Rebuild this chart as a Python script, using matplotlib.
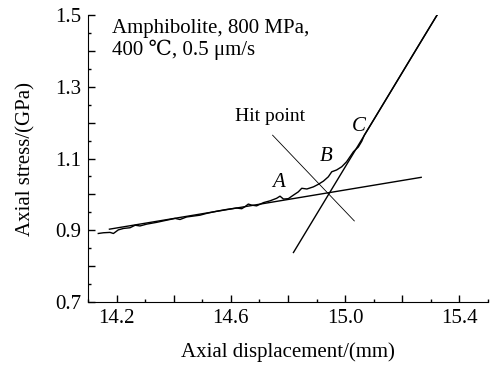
import matplotlib
matplotlib.use("Agg")
import matplotlib.pyplot as plt
from matplotlib.ticker import MultipleLocator

plt.rcParams['font.family'] = ['Liberation Serif', 'DejaVu Serif']

# measured stress-displacement curve
disp = [14.136, 14.154, 14.177, 14.189, 14.206, 14.224, 14.247, 14.265, 14.282, 14.305,
        14.340, 14.375, 14.405, 14.422, 14.445, 14.492, 14.515, 14.550, 14.585, 14.620,
        14.638, 14.650, 14.661, 14.673, 14.690, 14.714, 14.737, 14.760, 14.772, 14.784,
        14.801, 14.819, 14.836, 14.848, 14.866, 14.889, 14.906, 14.924, 14.941, 14.953,
        14.970, 14.988, 15.005, 15.017, 15.029, 15.046, 15.058, 15.067, 15.106, 15.156,
        15.212, 15.275, 15.324]
stress = [0.891, 0.893, 0.894, 0.891, 0.901, 0.905, 0.907, 0.914, 0.912, 0.917,
          0.922, 0.928, 0.933, 0.930, 0.937, 0.942, 0.947, 0.953, 0.958, 0.962,
          0.960, 0.966, 0.973, 0.970, 0.968, 0.977, 0.982, 0.989, 0.995, 0.987,
          0.988, 0.998, 1.007, 1.017, 1.015, 1.021, 1.028, 1.037, 1.049, 1.063,
          1.068, 1.077, 1.091, 1.105, 1.119, 1.132, 1.148, 1.165, 1.216, 1.282,
          1.356, 1.439, 1.503]

# fitted lines
fit1_x = [14.175, 15.266]
fit1_y = [0.903, 1.0475]
fit2_x = [14.819, 15.324]
fit2_y = [0.838, 1.503]
hit_x = [14.746, 15.032]
hit_y = [1.165, 0.926]

# labels
pt_labels = ["A", "B", "C"]
pt_x = [14.765, 14.935, 15.049]
pt_y = [1.032, 1.105, 1.19]

fig = plt.figure(figsize=(4.9, 3.65), dpi=100)
ax = fig.add_axes([0.1796, 0.1726, 0.8164, 0.7863])

ax.plot(disp, stress, color='black', lw=1.0)
ax.plot(fit1_x, fit1_y, color='black', lw=1.0)
ax.plot(fit2_x, fit2_y, color='black', lw=1.0)
ax.plot(hit_x, hit_y, color='black', lw=0.6)

for s, x, y in zip(pt_labels, pt_x, pt_y):
    ax.text(x, y, s, fontsize=15, style='italic', ha='center', va='center')
ax.text(14.737, 1.216, "Hit point", fontsize=14, ha='center', va='center')
ax.text(0.06, 0.985, "Amphibolite, 800 MPa,\n400 ℃, 0.5 μm/s", transform=ax.transAxes,
        fontsize=15, ha='left', va='top', linespacing=1.1)

ax.set_xlim(14.1, 15.5)
ax.set_ylim(0.7, 1.5)
for sp in ['top', 'right']:
    ax.spines[sp].set_visible(False)
ax.xaxis.set_major_locator(MultipleLocator(0.2))
ax.xaxis.set_minor_locator(MultipleLocator(0.1))
ax.yaxis.set_major_locator(MultipleLocator(0.1))
ax.yaxis.set_minor_locator(MultipleLocator(0.05))
ax.xaxis.set_major_formatter(plt.FuncFormatter(
    lambda v, p: f"{v:.1f}" if abs(round(v * 10) % 4 - 2) == 0 else ""))
ax.yaxis.set_major_formatter(plt.FuncFormatter(
    lambda v, p: f"{v:.1f}" if round(v * 10) % 2 == 1 else ""))
ax.tick_params(which='major', direction='in', length=5, width=1, labelsize=15, pad=5)
ax.tick_params(which='minor', direction='in', length=2.5, width=1)
ax.set_xlabel("Axial displacement/(mm)", fontsize=15, labelpad=10)
ax.set_ylabel("Axial stress/(GPa)", fontsize=15, labelpad=14)

fig.savefig("out.png", dpi=100)
